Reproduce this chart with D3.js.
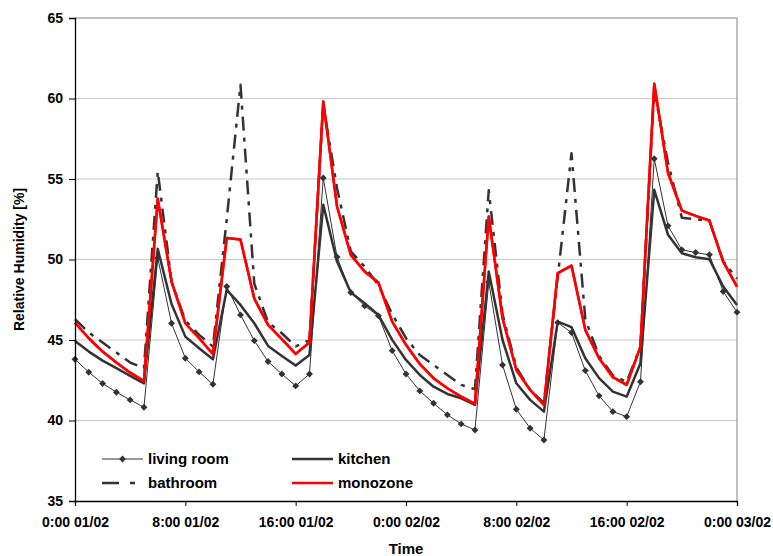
<!DOCTYPE html>
<html>
<head>
<meta charset="utf-8">
<script src="https://cdn.jsdelivr.net/npm/d3@7"></script>
<style>
  body { margin: 0; background: #fff; }
  svg { font-family: "Liberation Sans", Arial, sans-serif; font-weight: bold; }
</style>
</head>
<body>
<svg width="773" height="556"></svg>
<script>
  (function(){
    'use strict';

    var WIDTH = 773;
    var HEIGHT = 556;

    var padding = {
      top: 18,
      bottom: 55,
      left: 75,
      right: 36,
    };

    // hourly readings, 0:00 01/02 .. 0:00 03/02
    var hours = d3.range(0, 49);

    var livingRoom = [43.8, 43.0, 42.3, 41.76, 41.28, 40.82, 50.1, 46.04, 43.87, 43.02,
      42.25, 48.32, 46.56, 44.96, 43.66, 42.89, 42.15, 42.89, 55.06, 50.15,
      47.95, 47.12, 46.5, 44.34, 42.89, 41.84, 41.07, 40.35, 39.79, 39.41,
      48.6, 43.45, 40.7, 39.52, 38.79, 46.08, 45.46, 43.1, 41.53, 40.55,
      40.24, 42.41, 56.26, 52.09, 50.6, 50.43, 50.29, 48.01, 46.73];

    var kitchen = [44.94, 44.28, 43.72, 43.25, 42.77, 42.31, 50.66, 47.24, 45.21, 44.49,
      43.8, 48.11, 47.18, 46.04, 44.63, 44.01, 43.41, 44.07, 53.4, 49.87,
      47.95, 47.29, 46.56, 45.01, 43.76, 42.83, 42.1, 41.65, 41.38, 40.97,
      49.25, 45.0, 42.31, 41.28, 40.55, 46.14, 45.8, 43.87, 42.63, 41.79,
      41.48, 43.56, 54.33, 51.53, 50.39, 50.14, 50.02, 48.32, 47.18];

    var bathroom = [46.3, 45.46, 44.84, 44.22, 43.6, 43.25, 55.47, 48.63, 46.2, 45.32,
      44.59, 52.5, 60.85, 48.5, 46.1, 45.42, 44.6, 45.0, 59.6, 54.43,
      50.5, 49.56, 48.4, 46.6, 45.11, 44.07, 43.45, 42.83, 42.21, 41.94,
      54.3, 46.6, 43.3, 41.9, 41.1, 48.9, 56.6, 46.3, 44.0, 42.8,
      42.4, 44.6, 60.5, 56.0, 52.6, 52.5, 52.4, 49.9, 48.8];

    var monozone = [46.08, 45.11, 44.28, 43.6, 42.97, 42.45, 53.77, 48.63, 46.04, 45.11,
      44.14, 51.33, 51.24, 47.57, 45.94, 45.05, 44.14, 44.84, 59.82, 53.29,
      50.29, 49.25, 48.57, 46.14, 44.7, 43.51, 42.63, 42.0, 41.48, 41.03,
      52.67, 46.35, 43.14, 41.9, 40.97, 49.15, 49.62, 45.63, 43.87, 42.69,
      42.21, 44.59, 60.92, 55.37, 53.04, 52.71, 52.42, 49.87, 48.32];

    var xTicks = [0, 8, 16, 24, 32, 40, 48];
    var xTickLabels = ['0:00 01/02', '8:00 01/02', '16:00 01/02', '0:00 02/02',
      '8:00 02/02', '16:00 02/02', '0:00 03/02'];
    var yTicks = [35, 40, 45, 50, 55, 60, 65];

    var series = [
      {name: 'living room', values: livingRoom, color: '#333', width: 1, dash: null, marker: true},
      {name: 'kitchen', values: kitchen, color: '#333', width: 2.5, dash: null, marker: false},
      {name: 'bathroom', values: bathroom, color: '#333', width: 2.5, dash: '14,7,4,7', marker: false},
      {name: 'monozone', values: monozone, color: '#ff0000', width: 2.5, dash: null, marker: false}
    ];

    var svg = d3.select('svg');

    var xScale = d3.scaleLinear()
      .domain([0, 48])
      .range([padding.left, WIDTH - padding.right]);

    var yScale = d3.scaleLinear()
      .domain([35, 65])
      .range([HEIGHT - padding.bottom, padding.top]);

    // grid
    svg.append('g')
      .selectAll('line')
      .data(yTicks.slice(1, -1))
      .enter()
      .append('line')
      .attr('x1', xScale(0))
      .attr('x2', xScale(48))
      .attr('y1', function(d) { return yScale(d); })
      .attr('y2', function(d) { return yScale(d); })
      .attr('stroke', '#c8c8c8')
      .attr('stroke-width', 1);

    // frame top / right
    svg.append('path')
      .attr('d', 'M' + xScale(0) + ',' + yScale(65) + 'H' + xScale(48) + 'V' + yScale(35))
      .attr('fill', 'none')
      .attr('stroke', '#808080')
      .attr('stroke-width', 1);

    var line = d3.line()
      .x(function(d, i) { return xScale(hours[i]); })
      .y(function(d) { return yScale(d); });

    series.forEach(function(s) {
      svg.append('path')
        .datum(s.values)
        .attr('d', line)
        .attr('fill', 'none')
        .attr('stroke', s.color)
        .attr('stroke-width', s.width)
        .attr('stroke-dasharray', s.dash)
        .attr('stroke-linejoin', 'round');
    });

    // square turned 45deg -> diamond like the excel marker
    var diamond = d3.symbol().type(d3.symbolSquare).size(24);

    svg.append('g')
      .selectAll('path')
      .data(livingRoom)
      .enter()
      .append('path')
      .attr('d', diamond)
      .attr('transform', function(d, i) {
        return 'translate(' + [xScale(hours[i]), yScale(d)] + ') rotate(45)';
      })
      .attr('fill', '#333');

    // monozone again on top
    svg.append('path')
      .datum(monozone)
      .attr('d', line)
      .attr('fill', 'none')
      .attr('stroke', '#ff0000')
      .attr('stroke-width', 2.5)
      .attr('stroke-linejoin', 'round');

    // axes
    var xAxis = d3.axisBottom(xScale)
      .tickValues(xTicks)
      .tickSize(5)
      .tickPadding(11)
      .tickFormat(function(d, i) { return xTickLabels[i]; });

    var gx = svg.append('g')
      .attr('transform', 'translate(0,' + yScale(35) + ')')
      .call(xAxis);

    var yAxis = d3.axisLeft(yScale)
      .tickValues(yTicks)
      .tickSize(6)
      .tickPadding(6)
      .tickFormat(d3.format('d'));

    var gy = svg.append('g')
      .attr('transform', 'translate(' + xScale(0) + ',0)')
      .call(yAxis);

    [gx, gy].forEach(function(g) {
      g.select('.domain').attr('stroke', '#000').attr('stroke-width', 1.3);
      g.selectAll('.tick line').attr('stroke', '#000');
      g.selectAll('.tick text')
        .attr('fill', '#000')
        .style('font-family', '"Liberation Sans", Arial, sans-serif')
        .style('font-weight', 'bold')
        .style('font-size', '14px');
    });

    svg.append('text')
      .attr('x', (xScale(0) + xScale(48)) / 2)
      .attr('y', 554)
      .attr('text-anchor', 'middle')
      .style('font-size', '15px')
      .text('Time');

    svg.append('text')
      .attr('transform', 'translate(24,' + (yScale(50)) + ') rotate(-90)')
      .attr('text-anchor', 'middle')
      .style('font-size', '14px')
      .text('Relative Humidity [%]');

    // legend
    var legendPos = [
      {x: 102, y: 459},
      {x: 292, y: 459},
      {x: 102, y: 483},
      {x: 292, y: 483}
    ];

    var legend = svg.append('g')
      .selectAll('g')
      .data(series)
      .enter()
      .append('g')
      .attr('transform', function(d, i) {
        return 'translate(' + [legendPos[i].x, legendPos[i].y] + ')';
      });

    legend.append('line')
      .attr('x1', 0)
      .attr('x2', 41)
      .attr('stroke', function(d) { return d.color; })
      .attr('stroke-width', function(d) { return d.width; })
      .attr('stroke-dasharray', function(d) { return d.name === 'bathroom' ? '17,11,5,20' : null; });

    legend.filter(function(d) { return d.marker; })
      .append('path')
      .attr('d', diamond)
      .attr('transform', 'translate(20.5,0) rotate(45)')
      .attr('fill', '#333');

    legend.append('text')
      .attr('x', 46)
      .attr('dy', '0.35em')
      .style('font-size', '15px')
      .text(function(d) { return d.name; });
  })();
</script>
</body>
</html>
